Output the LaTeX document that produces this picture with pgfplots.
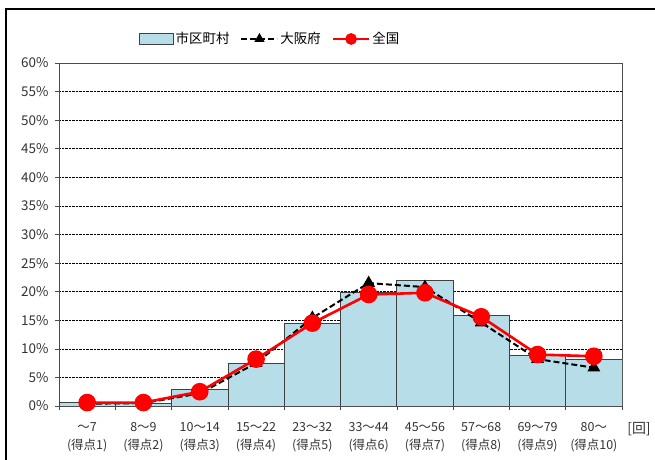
\documentclass[border=0pt]{standalone}
\usepackage{fontspec}
\setmainfont{Noto Sans CJK JP}
\usepackage{pgfplots}
\pgfplotsset{compat=1.18}
\definecolor{barblue}{RGB}{183,221,232}
\pgfplotsset{
  barleg/.style={legend image code/.code={\draw[##1] (0bp,-5bp) rectangle (34bp,6bp);}},
  lineleg/.style={legend image code/.code={\draw[mark repeat=2,mark phase=2,##1, mark size=#1] plot coordinates {(0bp,0bp) (18bp,0bp) (36bp,0bp)};}},
}
\begin{document}
\begin{tikzpicture}[x=1bp,y=1bp]
\useasboundingbox (0,0) rectangle (655,460);
\draw[line width=1.3bp] (6,-20) -- (6,451) -- (680,451);
\begin{axis}[
  at={(59bp,54bp)}, anchor=south west,
  width=563bp, height=343bp, scale only axis,
  xmin=0, xmax=10, ymin=0, ymax=60,
  axis line style={black!70, line width=0.8bp},
  ytick={0,5,...,60},
  yticklabel={\pgfmathprintnumber{\tick}\%},
  /pgf/number format/assume math mode=true,
  yticklabel style={font=\fontsize{13.5}{15}\selectfont, text=black!80, xshift=-3bp},
  ymajorgrids, grid style={black, densely dotted, line width=0.6bp},
  xtick={0,1,...,10},
  x tick label as interval,
  xticklabels={{～7\\(得点1)},{8～9\\(得点2)},{10～14\\(得点3)},{15～22\\(得点4)},{23～32\\(得点5)},{33～44\\(得点6)},{45～56\\(得点7)},{57～68\\(得点8)},{69～79\\(得点9)},{80～\\(得点10)}},
  xticklabel style={align=center, font=\fontsize{12.5}{18}\selectfont, text=black!80, yshift=-9bp},
  tick align=outside, major tick length=4bp,
  xtick pos=lower, ytick pos=left,
  tick style={black!70, line width=0.6bp},
  legend style={at={(0.375,1.07)}, anchor=center, draw=none, fill=none,
    legend columns=3, font=\fontsize{13.5}{16}\selectfont,
    /tikz/every even column/.append style={column sep=9bp},
    legend cell align=left},
]
\addplot[ybar, bar width=1, bar shift=0, fill=barblue, draw=black!75, line width=0.7bp, barleg]
  coordinates {(0.5,0.6) (1.5,0.4) (2.5,2.9) (3.5,7.5) (4.5,14.4) (5.5,19.9) (6.5,21.9) (7.5,15.8) (8.5,8.9) (9.5,8.2)};
\addlegendentry{市区町村}
\addplot[black, line width=2bp, dash pattern=on 6bp off 3bp, mark=triangle*, mark size=5.5bp, mark options={solid}, lineleg=4bp]
  coordinates {(0.5,0.4) (1.5,0.5) (2.5,2.2) (3.5,7.5) (4.5,15.4) (5.5,21.5) (6.5,20.8) (7.5,14.6) (8.5,8.2) (9.5,6.7)};
\addlegendentry{大阪府}
\addplot[red, line width=2.6bp, mark=*, mark size=7.5bp, mark options={solid}, lineleg=4.5bp]
  coordinates {(0.5,0.6) (1.5,0.6) (2.5,2.5) (3.5,8.2) (4.5,14.5) (5.5,19.5) (6.5,19.8) (7.5,15.6) (8.5,9.0) (9.5,8.7)};
\addlegendentry{全国}
\end{axis}
\node[font=\fontsize{14}{16}\selectfont, text=black!80] at (639,31) {[回]};
\end{tikzpicture}
\end{document}
